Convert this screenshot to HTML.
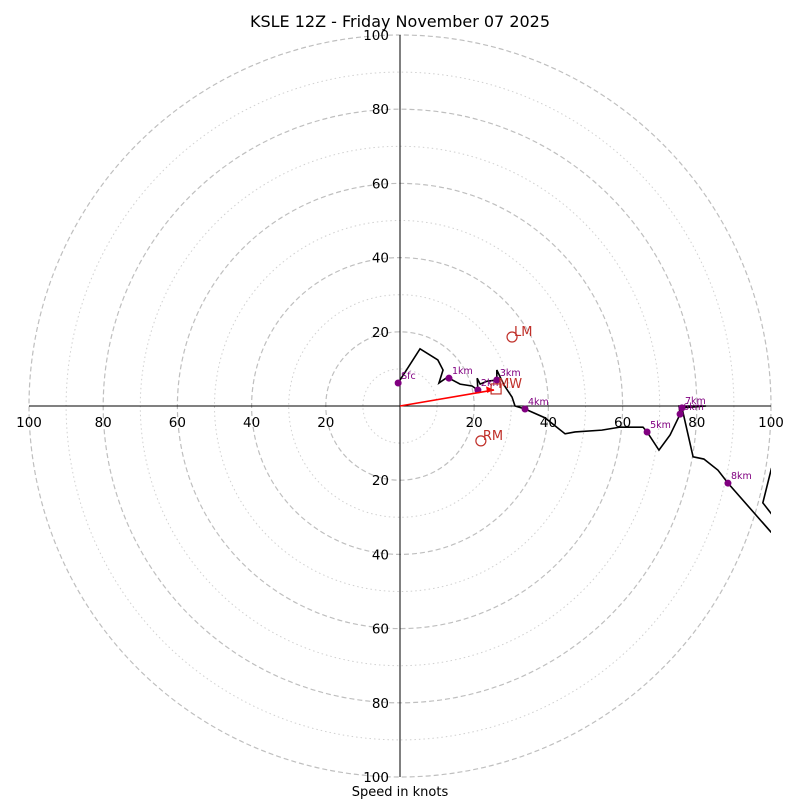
<!DOCTYPE html>
<html><head><meta charset="utf-8"><style>
html,body{margin:0;padding:0;background:#fff}
svg{display:block;font-family:"DejaVu Sans","Liberation Sans",sans-serif}
</style></head><body>
<svg id="chart" width="800" height="800" viewBox="0 0 800 800">
<defs><clipPath id="clip"><rect x="29" y="35" width="742" height="742"/></clipPath></defs>
<text x="400" y="27" text-anchor="middle" font-size="16">KSLE 12Z - Friday November 07 2025</text>
<g id="rings"></g>
<g id="axes"></g>
<g id="ticks"></g>
<g id="series" clip-path="url(#clip)"></g>
<g id="markers"></g>
<g id="storm"></g>
<text x="400" y="796" text-anchor="middle" font-size="13">Speed in knots</text>
</svg>
<script>
const ringValues=[10,20,30,40,50,60,70,80,90,100];
const tickValues=[20,40,60,80,100];
const windU=[-0.5,5.4,10.2,11.6,10.5,12.4,13.2,16.2,19.4,21.0,20.8,21.6,23.5,26.1,26.1,28.0,30.2,31.0,33.7,39.1,44.5,47.2,54.4,59.3,65.5,66.6,69.8,72.8,75.5,75.2,82.5,76.0,79.0,81.9,85.7,88.4,100,107.8,100,97.8,102.4];
const windV=[6.2,15.4,12.4,9.7,6.2,7.5,7.5,5.9,5.4,4.3,7.5,5.9,6.7,7.0,9.7,5.7,2.4,0,-0.8,-3.2,-7.5,-7.0,-6.5,-5.7,-5.7,-7.0,-11.9,-7.8,-2.2,0,0,-0.5,-13.7,-14.3,-17.3,-20.8,-34,-36.1,-17.3,-26.1,-32];
const heightLabels=["Sfc","1km","2km","3km","4km","5km","6km","7km","8km"];
const heightIdx=[0,6,9,13,18,25,28,31,35];
const stormNames=["MW","LM","RM"];
const stormU=[25.9,30.2,21.8];
const stormV=[4.6,18.6,-9.4];
const maxSpeed=100;
const cx=400,cy=406,R=371;
const sx=u=>cx+u*R/maxSpeed, sy=v=>cy-v*R/maxSpeed;
const NS="http://www.w3.org/2000/svg";
function mk(tag,parent,attrs){const e=document.createElementNS(NS,tag);for(const k in attrs)e.setAttribute(k,attrs[k]);parent.appendChild(e);return e;}
const rings=document.getElementById('rings');
ringValues.forEach(r=>{const major=r%20===0;
 const c=mk('circle',rings,{cx:cx,cy:cy,r:r*R/maxSpeed,fill:'none',stroke:major?'#bfbfbf':'#d0d0d0','stroke-width':major?1.2:1,'stroke-dasharray':major?'5,3':'1.5,3'});
 
 });
const axes=document.getElementById('axes');
const hx=mk('line',axes,{x1:sx(-maxSpeed),y1:cy,x2:sx(maxSpeed),y2:cy,stroke:'#000','stroke-width':1});


const vy=mk('line',axes,{x1:cx,y1:sy(maxSpeed),x2:cx,y2:sy(-maxSpeed),stroke:'#000','stroke-width':1});


const ticks=document.getElementById('ticks');
tickValues.forEach(t=>{[1,-1].forEach(s=>{
 const a=mk('text',ticks,{x:sx(s*t),y:cy+21,'text-anchor':'middle','font-size':13.5});a.textContent=t;
 
 
 const b=mk('text',ticks,{x:cx-11,y:sy(s*t)+5,'text-anchor':'end','font-size':13.5});b.textContent=t;
 
 });});
const series=document.getElementById('series');
const p=mk('polyline',series,{points:windU.map((u,i)=>sx(u)+','+sy(windV[i])).join(' '),fill:'none',stroke:'#000','stroke-width':1.6});


const markers=document.getElementById('markers');
heightIdx.forEach((idx,k)=>{const x=sx(windU[idx]),y=sy(windV[idx]);
 const c=mk('circle',markers,{cx:x,cy:y,r:3.5,fill:'purple'});
 
 
 const t=mk('text',markers,{x:x+3,y:y-4,'font-size':9.5,fill:'purple'});t.textContent=heightLabels[k];
 
 });
const storm=document.getElementById('storm');
const arr=mk('line',storm,{x1:cx,y1:cy,x2:sx(stormU[0])-2,y2:sy(stormV[0])+1,stroke:'red','stroke-width':1.6});


const ax=sx(stormU[0])-2,ay=sy(stormV[0])+1;
const head=mk('polygon',storm,{points:`${ax},${ay} ${ax-8},${ay-3.5} ${ax-7},${ay+3}`,fill:'red'});


stormNames.forEach((n,i)=>{const x=sx(stormU[i]),y=sy(stormV[i]);
 let m;
 if(i===0)m=mk('rect',storm,{x:x-5,y:y-5,width:10,height:10,fill:'none',stroke:'#c0302a','stroke-width':1.2});
 else m=mk('circle',storm,{cx:x,cy:y,r:5,fill:'none',stroke:'#c0302a','stroke-width':1.2});
 
 
 const t=mk('text',storm,{x:x+2,y:y-1,'font-size':13,fill:'#c0302a'});t.textContent=n;
 
 });
</script>
</body></html>
